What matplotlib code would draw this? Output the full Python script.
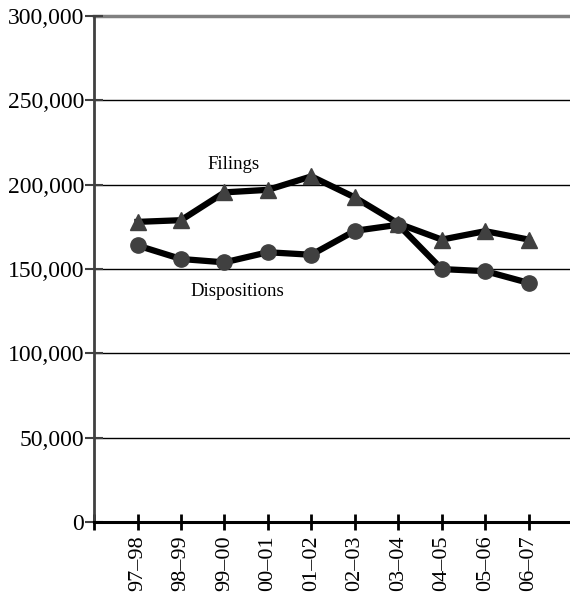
import matplotlib.pyplot as plt

# DATA
years = ["97–98", "98–99", "99–00", "00–01", "01–02",
         "02–03", "03–04", "04–05", "05–06", "06–07"]
filings = [178000, 179000, 195500, 197000, 205000,
           192500, 177000, 167500, 172500, 167500]
dispositions = [164000, 156000, 154000, 160000, 158500,
                172700, 176300, 150000, 148800, 141800]

plt.rcParams['font.family'] = ['Liberation Serif', 'DejaVu Serif']

fig = plt.figure(figsize=(5.7, 5.98), dpi=100)
ax = fig.add_axes([0.165, 0.127, 0.835, 0.846])

x = list(range(1, len(years) + 1))
ax.plot(x, filings, color="black", lw=4.5, marker="^", ms=12,
        mfc="#404040", mec="#404040", zorder=3)
ax.plot(x, dispositions, color="black", lw=4.5, marker="o", ms=11,
        mfc="#404040", mec="#404040", zorder=3)

# GRID
for v in range(50000, 300000, 50000):
    ax.axhline(v, color="black", lw=1, zorder=1)
ax.axhline(300000, color="#808080", lw=2.5, zorder=1, clip_on=False)

ax.set_xlim(0, 10.95)
ax.set_ylim(0, 300000)
ax.set_xticks(range(0, 11))
ax.set_xticklabels([""] + years, rotation=90, fontsize=16)
ax.set_yticks(range(0, 300001, 50000))
ax.set_yticklabels([f"{v:,}" for v in range(0, 300001, 50000)], fontsize=17)

for s in ["top", "right"]:
    ax.spines[s].set_visible(False)
ax.spines["left"].set_color("#404040")
ax.spines["left"].set_linewidth(2)
ax.spines["bottom"].set_linewidth(2.2)
ax.tick_params(axis="x", direction="inout", length=11, width=2, pad=4)
ax.tick_params(axis="y", direction="inout", length=13, width=1.5,
               color="#404040", pad=0.5)

# LABELS
ax.text(3.2, 212000, "Filings", fontsize=13.5, ha="center", va="center")
ax.text(3.3, 137000, "Dispositions", fontsize=13.5, ha="center", va="center")

fig.savefig("out.png")
